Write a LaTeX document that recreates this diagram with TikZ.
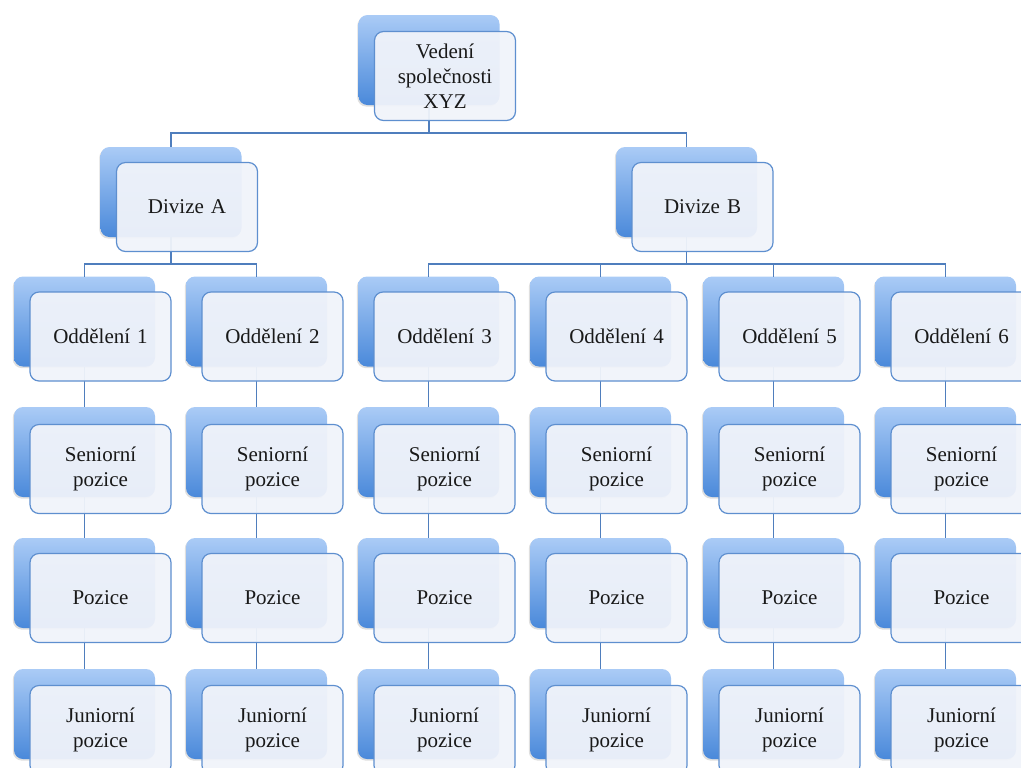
\documentclass[tikz,border=0pt]{standalone}
\usepackage{fontspec}
\setmainfont{Liberation Serif}
\usetikzlibrary{shadows}

\definecolor{boxtop}{HTML}{AACBF6}
\definecolor{boxbottom}{HTML}{4A89DA}
\definecolor{boxline}{HTML}{5E8FCF}
\definecolor{boxfill}{HTML}{F0F3FA}
\definecolor{linkline}{HTML}{4F7EBD}

\tikzset{
  backbox/.style={rectangle, rounded corners=4.5pt, inner sep=0pt, outer sep=0pt,
    minimum width=70.5pt, minimum height=45pt,
    top color=boxtop, bottom color=boxbottom,
    drop shadow={opacity=0.25, shadow xshift=-0.6pt, shadow yshift=-0.8pt}},
  frontbox/.style={rectangle, rounded corners=4.5pt, inner sep=2pt, outer sep=0pt,
    minimum width=70.5pt, minimum height=44.5pt, text width=62pt, align=center,
    draw=boxline, line width=0.6pt, fill=boxfill, fill opacity=0.95, text opacity=1,
    font=\fontsize{10.5}{12.5}\selectfont, text=black!90},
  link/.style={draw=linkline, line width=0.9pt}
}

\begin{document}
\begin{tikzpicture}[x=0.5pt, y=-0.5pt]
  \useasboundingbox (0,0) rectangle (1021,767);
  \clip (0,0) rectangle (1021,767);

  % back boxes
  \node [backbox] (veds) at (429,60) {};
  \node [backbox] (divas) at (171,192) {};
  \node [backbox] (divbs) at (686.5,192) {};
  \foreach \i/\x in {1/84.5, 2/256.5, 3/428.5, 4/600.5, 5/773.5, 6/945.5} {
    \node [backbox] (odd\i s) at (\x,321.5) {};
    \node [backbox] (sen\i s) at (\x,452) {};
    \node [backbox] (poz\i s) at (\x,583) {};
    \node [backbox] (jun\i s) at (\x,714) {};
  }

  % bus lines
  \coordinate (bustop) at (0,133);
  \coordinate (busa) at (0,264);
  \coordinate (busb) at (0,264);

  \draw [link] (veds.south) -- (veds.south |- bustop) -| (divas.north);
  \draw [link] (veds.south) -- (veds.south |- bustop) -| (divbs.north);
  \draw [link] (divas.south) -- (divas.south |- busa) -| (odd1s.north);
  \draw [link] (divas.south) -- (divas.south |- busa) -| (odd2s.north);
  \foreach \i in {3,4,5,6}
    \draw [link] (divbs.south) -- (divbs.south |- busb) -| (odd\i s.north);
  \foreach \i in {1,...,6} {
    \draw [link] (odd\i s.south) -- (sen\i s.north);
    \draw [link] (sen\i s.south) -- (poz\i s.north);
    \draw [link] (poz\i s.south) -- (jun\i s.north);
  }

  % front boxes
  \node [frontbox, xshift=8pt, yshift=-8pt] (ved) at (veds) {Vedení\\společnosti\\XYZ};
  \node [frontbox, xshift=8pt, yshift=-7.5pt] (diva) at (divas) {Divize A};
  \node [frontbox, xshift=8pt, yshift=-7.5pt] (divb) at (divbs) {Divize B};
  \foreach \i in {1,...,6} {
    \node [frontbox, xshift=8pt, yshift=-7.5pt] (odd\i) at (odd\i s) {Oddělení \i};
    \node [frontbox, xshift=8pt, yshift=-8.5pt] (sen\i) at (sen\i s) {Seniorní\\pozice};
    \node [frontbox, xshift=8pt, yshift=-7.5pt] (poz\i) at (poz\i s) {Pozice};
    \node [frontbox, xshift=8pt, yshift=-8pt] (jun\i) at (jun\i s) {Juniorní\\pozice};
  }
\end{tikzpicture}
\end{document}
